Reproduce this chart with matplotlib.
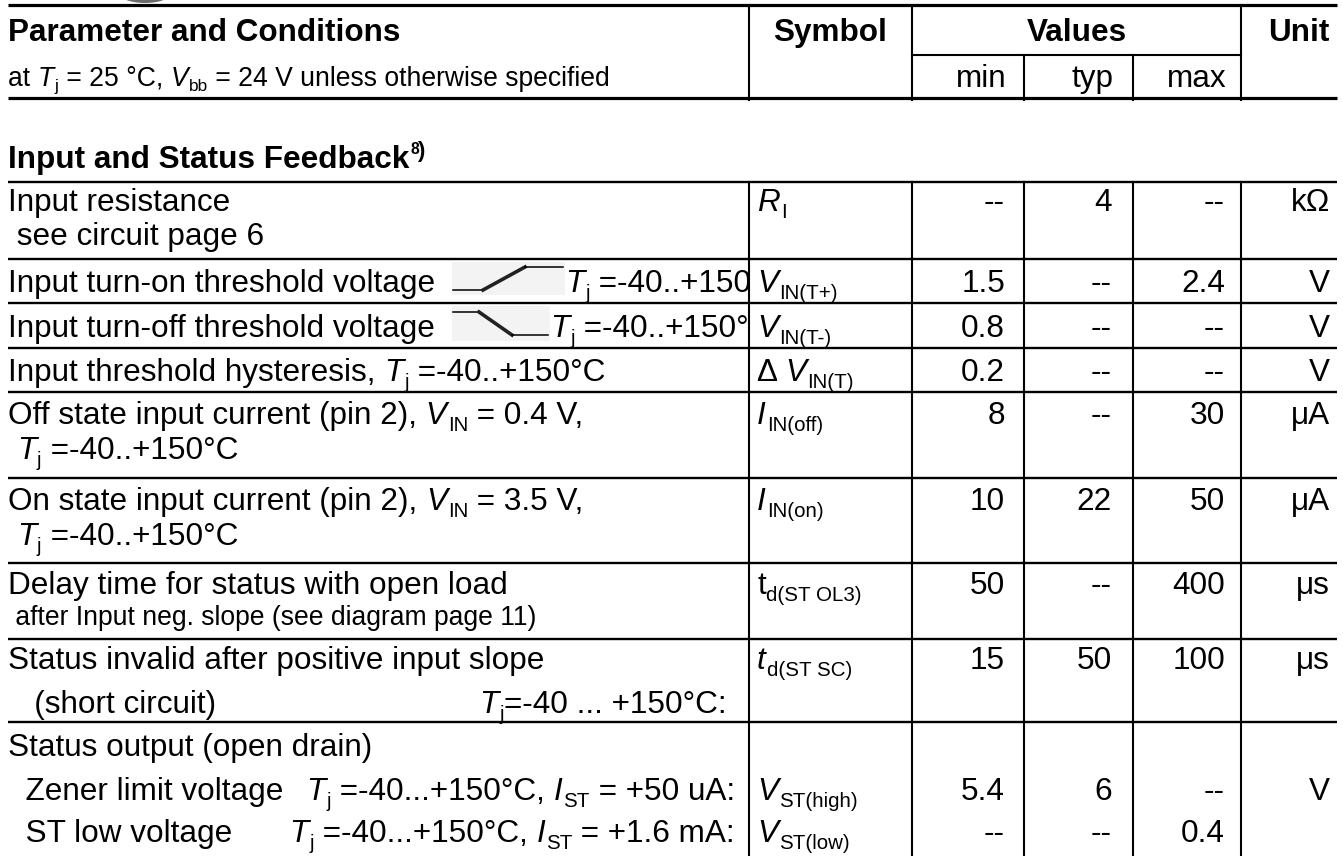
import re
import matplotlib
matplotlib.use("Agg")
import matplotlib.pyplot as plt
from matplotlib.patches import Rectangle, Ellipse
from matplotlib.transforms import Bbox, TransformedBbox

plt.rcParams['font.family'] = ['Liberation Sans', 'DejaVu Sans']

# ---- table content -------------------------------------------------------
header_param = "Parameter and Conditions"
header_cond = "at $T$_{j} = 25 °C, $V$_{bb} = 24 V unless otherwise specified"
header_cols = ["Symbol", "Values", "Unit"]
value_heads = ["min", "typ", "max"]
section_title = "Input and Status Feedback"
section_note = "8"

# one entry per printed text line
labels = [
    "Input resistance",
    " see circuit page 6",
    "Input turn-on threshold voltage",
    "Input turn-off threshold voltage",
    "Input threshold hysteresis, $T$_{j} =-40..+150°C",
    "Off state input current (pin 2), $V$_{IN} = 0.4 V,",
    " $T$_{j} =-40..+150°C",
    "On state input current (pin 2), $V$_{IN} = 3.5 V,",
    " $T$_{j} =-40..+150°C",
    "Delay time for status with open load",
    " after Input neg. slope (see diagram page 11)",
    "Status invalid after positive input slope",
    "   (short circuit)",
    "Status output (open drain)",
    "  Zener limit voltage",
    "  ST low voltage",
]
# the first two are cut off by the Symbol column in the original
conditions = [
    "", "",
    "$T$_{j} =-40..+150",
    "$T$_{j} =-40..+150°",
    "", "", "", "", "", "", "", "",
    "$T$_{j}=-40 ... +150°C:",
    "",
    "$T$_{j} =-40...+150°C, $I$_{ST} = +50 uA:",
    "$T$_{j} =-40...+150°C, $I$_{ST} = +1.6 mA:",
]
symbols = ["$R$_{I}", "", "$V$_{IN(T+)}", "$V$_{IN(T-)}", "Δ $V$_{IN(T)}",
           "$I$_{IN(off)}", "", "$I$_{IN(on)}", "", "t_{d(ST OL3)}", "",
           "$t$_{d(ST SC)}", "", "", "$V$_{ST(high)}", "$V$_{ST(low)}"]
v_min = ["--", "", "1.5", "0.8", "0.2", "8", "", "10", "", "50", "", "15", "", "", "5.4", "--"]
v_typ = ["4", "", "--", "--", "--", "--", "", "22", "", "--", "", "50", "", "", "6", "--"]
v_max = ["--", "", "2.4", "--", "--", "30", "", "50", "", "400", "", "100", "", "", "--", "0.4"]
units = ["kΩ", "", "V", "V", "V", "μA", "", "μA", "", "μs", "", "μs", "", "", "V", ""]

# ---- layout (pixels) -----------------------------------------------------
W, H = 1343, 856
EM = 31.5
FS = EM * 0.72
FS_SMALL = 26.5 * 0.72
line_y = [200, 234, 281, 326, 370, 413, 448, 499, 534, 583, 615, 658, 702, 745, 789, 831]
small_lines = {10}
cond_pos = {2: ("left", 565), 3: ("left", 550), 12: ("right", 727),
            14: ("right", 735), 15: ("right", 735)}
row_lines = [182, 259, 303, 348, 392, 478, 563, 639, 722]
col_x = [749, 912, 1024, 1133, 1241]
x_left, x_right = 8, 1337
sym_x = 757
val_right = [1005, 1112, 1225, 1330]

fig = plt.figure(figsize=(W / 100, H / 100), dpi=100)
ax = fig.add_axes([0, 0, 1, 1])
ax.set_xlim(0, W)
ax.set_ylim(H, 0)
ax.axis("off")
renderer = fig.canvas.get_renderer()

TOKEN = re.compile(r"(\$[^$]*\$|_\{[^}]*\})")


def parse(s):
    parts = []
    for tok in TOKEN.split(s):
        if not tok:
            continue
        if tok.startswith("$"):
            parts.append((tok[1:-1], "it"))
        elif tok.startswith("_{"):
            parts.append((tok[2:-1], "sub"))
        else:
            parts.append((tok, "rm"))
    return parts


def adv(s, size, style="normal", weight="normal"):
    t1 = ax.text(0, 0, "x" + s + "x", fontsize=size, style=style, weight=weight)
    t2 = ax.text(0, 0, "xx", fontsize=size, style=style, weight=weight)
    w = t1.get_window_extent(renderer).width - t2.get_window_extent(renderer).width
    t1.remove()
    t2.remove()
    return w


def rich(x, yc, s, size=FS, ha="left", weight="normal", clip=None):
    em = size / 0.72
    base = yc + 0.36 * em
    items = []
    for txt, kind in parse(s):
        sz = size * 0.65 if kind == "sub" else size
        st = "italic" if kind == "it" else "normal"
        dy = 0.2 * em if kind == "sub" else 0
        w = adv(txt, sz, st, weight) + (1 if kind == "it" else 0)
        items.append((txt, sz, st, dy, w))
    total = sum(i[4] for i in items)
    if ha == "right":
        x -= total
    elif ha == "center":
        x -= total / 2
    for txt, sz, st, dy, w in items:
        t = ax.text(x, base + dy, txt, fontsize=sz, style=st, weight=weight,
                    va="baseline", ha="left")
        if clip is not None:
            t.set_clip_box(TransformedBbox(clip, ax.transData))
            t.set_clip_on(True)
        x += w
    return x


# partial logo at the top edge
ax.add_patch(Ellipse((145, -7), 52, 20, color="#6a6a6a", lw=0))

# header
rich(x_left, 30, header_param, weight="bold")
rich(x_left, 76, header_cond, size=FS_SMALL)
rich((col_x[0] + col_x[1]) / 2, 30, header_cols[0], weight="bold", ha="center")
rich((col_x[1] + col_x[4]) / 2, 30, header_cols[1], weight="bold", ha="center")
rich(val_right[3], 30, header_cols[2], weight="bold", ha="right")
for k, name in enumerate(value_heads):
    rich(val_right[k] + 2, 76, name, ha="right")

ax.plot([x_left, x_right], [5, 5], color="black", lw=2.3, solid_capstyle="butt")
ax.plot([x_left, x_right], [98, 98], color="black", lw=2.3, solid_capstyle="butt")
ax.plot([col_x[1], col_x[4]], [55, 55], color="black", lw=1.5)
for cx in (col_x[0], col_x[1], col_x[4]):
    ax.plot([cx, cx], [5, 100], color="black", lw=1.5)
for cx in (col_x[2], col_x[3]):
    ax.plot([cx, cx], [55, 100], color="black", lw=1.5)

# section title with footnote mark
end = rich(x_left, 157, section_title, weight="bold")
ax.text(end + 1, 157 - 3, section_note, fontsize=FS * 0.5, weight="bold", va="baseline")
ax.text(end + 9, 157, ")", fontsize=FS * 0.7, weight="bold", va="baseline")

# grid
for ry in row_lines:
    ax.plot([x_left, x_right], [ry, ry], color="black", lw=1.7, solid_capstyle="butt")
for cx in col_x:
    ax.plot([cx, cx], [row_lines[0], H], color="black", lw=1.5)

# slope icons
ax.add_patch(Rectangle((452, 262), 113, 33, color="#f3f3f3", lw=0, zorder=0))
ax.add_patch(Rectangle((452, 306), 98, 35, color="#f3f3f3", lw=0, zorder=0))
ax.plot([453, 483], [290, 290], color="black", lw=1.1)
ax.plot([483, 525], [290, 267], color="#222222", lw=2.6)
ax.plot([525, 563], [267, 267], color="black", lw=1.1)
ax.plot([453, 479], [312, 312], color="black", lw=1.1)
ax.plot([479, 512], [312, 335], color="#222222", lw=2.6)
ax.plot([512, 548], [335, 335], color="black", lw=1.1)

# body text
clip = Bbox([[0, 0], [col_x[0] - 1, H]])
for i, yc in enumerate(line_y):
    size = FS_SMALL if i in small_lines else FS
    rich(x_left, yc, labels[i], size=size, clip=clip)
    if conditions[i]:
        ha, cx = cond_pos[i]
        rich(cx, yc, conditions[i], ha=ha, clip=clip)
    if symbols[i]:
        rich(sym_x, yc, symbols[i])
    for k, col in enumerate((v_min, v_typ, v_max, units)):
        if col[i]:
            rich(val_right[k], yc, col[i], ha="right")

fig.savefig("out.png", dpi=100)
